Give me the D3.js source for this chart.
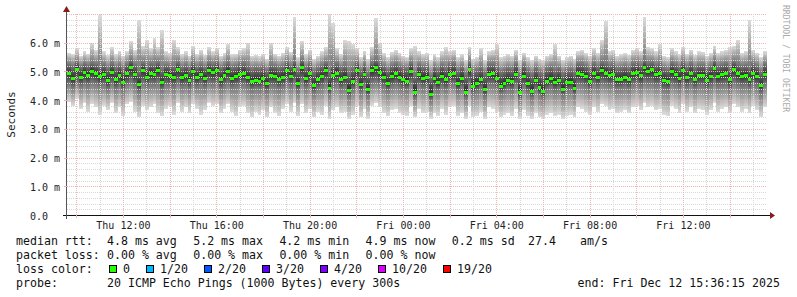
<!DOCTYPE html>
<html>
<head>
<meta charset="utf-8">
<script src="https://cdn.jsdelivr.net/npm/d3@7"></script>
<style>
  body { margin: 0; background: #fff; }
  svg { display: block; font-family: 'DejaVu Sans Mono', monospace; }
</style>
</head>
<body>
<svg id="chart" width="797" height="297"></svg>
<script>
// one column = 10 minutes, values in ms
const median = [
  4.95, 4.76, 5.10, 4.82, 4.97, 4.88, 5.02, 4.94, 4.83, 4.90,
  4.70, 4.97, 4.72, 4.88, 4.64, 4.93, 5.15, 4.90, 4.55, 5.05,
  4.82, 4.96, 4.92, 5.05, 4.62, 4.92, 4.87, 4.82, 5.07, 4.80,
  4.87, 4.70, 5.02, 4.80, 4.92, 4.78, 5.05, 4.97, 5.06, 4.72,
  4.88, 5.03, 4.78, 4.83, 4.91, 4.93, 4.82, 4.66, 4.71, 4.68,
  4.76, 4.58, 4.88, 4.85, 4.74, 4.82, 5.05, 4.85, 5.10, 4.60,
  5.15, 4.76, 4.93, 4.52, 4.72, 4.84, 5.05, 4.44, 4.88, 4.96,
  4.72, 4.82, 4.36, 4.66, 5.04, 4.55, 4.90, 4.38, 5.05, 5.15,
  4.97, 4.82, 4.60, 4.84, 4.93, 4.82, 4.74, 4.68, 5.02, 4.30,
  4.90, 4.78, 4.80, 4.22, 4.77, 4.62, 4.85, 4.72, 4.92, 4.94,
  4.60, 4.78, 4.30, 5.07, 4.50, 4.60, 4.72, 4.38, 4.92, 4.93,
  4.78, 4.50, 4.60, 4.70, 4.65, 4.92, 4.28, 4.85, 4.58, 4.32,
  4.70, 4.45, 4.32, 4.68, 4.76, 4.62, 4.70, 4.40, 4.62, 4.64,
  4.42, 4.95, 4.92, 4.84, 4.68, 4.95, 4.82, 5.05, 4.96, 4.88,
  4.92, 4.72, 4.74, 4.80, 4.72, 4.94, 4.98, 4.86, 5.14, 5.03,
  5.07, 4.90, 4.94, 4.70, 4.66, 5.00, 4.90, 4.78, 5.05, 4.79,
  4.94, 4.74, 4.88, 4.88, 4.71, 4.84, 5.12, 4.84, 4.90, 4.94,
  4.72, 5.10, 4.93, 4.84, 4.88, 4.73, 4.95, 4.84, 4.52, 4.92
];
const pingMax = [
  5.65, 5.60, 5.80, 5.55, 5.70, 5.62, 6.00, 5.75, 6.95, 5.70,
  5.58, 5.85, 5.60, 5.72, 5.55, 5.70, 6.05, 5.75, 6.80, 5.90,
  6.10, 5.80, 6.15, 5.85, 6.45, 5.70, 5.65, 6.10, 5.85, 5.60,
  5.70, 5.55, 5.90, 5.62, 5.75, 5.58, 5.85, 5.70, 5.80, 5.55,
  5.65, 5.95, 5.60, 5.62, 5.75, 5.80, 6.00, 5.55, 5.58, 5.52,
  5.60, 5.45, 6.00, 5.62, 5.55, 5.65, 5.85, 5.68, 6.90, 5.50,
  6.05, 5.60, 5.75, 5.45, 5.55, 5.70, 5.85, 7.00, 6.70, 5.80,
  5.60, 6.10, 6.05, 5.95, 5.80, 5.50, 5.72, 5.45, 5.85, 6.85,
  6.00, 5.65, 5.50, 5.68, 5.75, 5.65, 5.55, 5.50, 5.80, 5.90,
  5.70, 5.60, 5.65, 5.40, 5.60, 5.50, 5.70, 5.85, 5.70, 5.75,
  5.50, 5.60, 5.40, 5.85, 5.45, 5.50, 5.80, 5.40, 5.70, 5.75,
  5.95, 5.50, 5.55, 5.60, 5.55, 5.75, 5.40, 5.65, 5.50, 5.40,
  5.55, 5.45, 5.40, 5.55, 5.60, 5.95, 5.55, 5.40, 5.50, 5.55,
  5.45, 5.70, 5.75, 5.65, 5.55, 5.80, 5.65, 6.10, 6.75, 5.70,
  5.75, 5.55, 5.60, 5.65, 5.58, 5.75, 5.80, 5.70, 6.90, 5.85,
  5.80, 5.70, 5.95, 5.55, 5.50, 5.80, 5.70, 5.60, 5.85, 5.62,
  5.75, 5.58, 5.70, 5.68, 5.55, 5.65, 5.90, 5.65, 5.70, 5.75,
  5.85, 5.90, 6.10, 5.65, 5.70, 6.80, 5.75, 5.65, 5.50, 5.70
];
const pingQ3 = [
  5.25, 5.20, 5.32, 5.18, 5.28, 5.22, 5.30, 5.26, 5.20, 5.24,
  5.12, 5.28, 5.15, 5.22, 5.10, 5.25, 5.38, 5.24, 5.05, 5.30,
  5.20, 5.28, 5.24, 5.32, 5.08, 5.22, 5.20, 5.18, 5.32, 5.16,
  5.22, 5.12, 5.30, 5.18, 5.24, 5.15, 5.30, 5.26, 5.32, 5.14,
  5.22, 5.30, 5.16, 5.20, 5.26, 5.28, 5.18, 5.10, 5.14, 5.12,
  5.16, 5.05, 5.22, 5.20, 5.14, 5.18, 5.32, 5.20, 5.35, 5.06,
  5.38, 5.15, 5.26, 5.02, 5.12, 5.20, 5.30, 5.00, 5.22, 5.28,
  5.14, 5.20, 4.98, 5.10, 5.30, 5.04, 5.24, 4.95, 5.30, 5.38,
  5.28, 5.18, 5.06, 5.20, 5.26, 5.18, 5.14, 5.12, 5.30, 4.90,
  5.24, 5.16, 5.18, 4.85, 5.15, 5.06, 5.22, 5.12, 5.26, 5.28,
  5.05, 5.16, 4.92, 5.32, 5.00, 5.06, 5.14, 4.95, 5.26, 5.26,
  5.16, 5.00, 5.05, 5.12, 5.08, 5.26, 4.90, 5.22, 5.04, 4.92,
  5.12, 4.98, 4.92, 5.10, 5.16, 5.06, 5.12, 4.95, 5.06, 5.08,
  4.98, 5.28, 5.26, 5.20, 5.10, 5.28, 5.18, 5.32, 5.28, 5.22,
  5.26, 5.12, 5.14, 5.18, 5.12, 5.28, 5.30, 5.22, 5.38, 5.30,
  5.32, 5.24, 5.28, 5.12, 5.08, 5.30, 5.24, 5.16, 5.32, 5.18,
  5.28, 5.14, 5.22, 5.22, 5.12, 5.20, 5.36, 5.20, 5.24, 5.28,
  5.14, 5.34, 5.26, 5.20, 5.22, 5.14, 5.28, 5.20, 5.00, 5.26
];
const pingQ1 = [
  4.58, 4.45, 4.62, 4.50, 4.60, 4.52, 4.62, 4.58, 4.50, 4.55,
  4.40, 4.58, 4.42, 4.52, 4.36, 4.56, 4.65, 4.55, 4.30, 4.62,
  4.50, 4.58, 4.56, 4.62, 4.38, 4.55, 4.52, 4.48, 4.62, 4.48,
  4.52, 4.42, 4.60, 4.48, 4.56, 4.46, 4.62, 4.58, 4.62, 4.42,
  4.52, 4.60, 4.46, 4.50, 4.55, 4.56, 4.48, 4.38, 4.42, 4.40,
  4.45, 4.32, 4.52, 4.50, 4.42, 4.48, 4.62, 4.50, 4.64, 4.34,
  4.66, 4.45, 4.56, 4.28, 4.42, 4.50, 4.62, 4.22, 4.52, 4.58,
  4.42, 4.48, 4.15, 4.38, 4.62, 4.30, 4.55, 4.16, 4.62, 4.66,
  4.58, 4.48, 4.34, 4.50, 4.56, 4.48, 4.42, 4.38, 4.60, 4.08,
  4.55, 4.45, 4.48, 4.02, 4.45, 4.34, 4.50, 4.40, 4.56, 4.58,
  4.32, 4.45, 4.08, 4.62, 4.25, 4.32, 4.42, 4.15, 4.56, 4.56,
  4.45, 4.25, 4.32, 4.40, 4.36, 4.56, 4.06, 4.50, 4.30, 4.10,
  4.40, 4.20, 4.10, 4.38, 4.45, 4.34, 4.40, 4.18, 4.34, 4.36,
  4.20, 4.58, 4.56, 4.50, 4.38, 4.58, 4.48, 4.62, 4.58, 4.52,
  4.56, 4.42, 4.44, 4.48, 4.42, 4.56, 4.60, 4.50, 4.66, 4.60,
  4.62, 4.54, 4.56, 4.40, 4.36, 4.60, 4.54, 4.45, 4.62, 4.46,
  4.56, 4.42, 4.52, 4.52, 4.40, 4.50, 4.66, 4.50, 4.54, 4.56,
  4.40, 4.64, 4.56, 4.50, 4.52, 4.42, 4.58, 4.50, 4.25, 4.56
];
const pingMin = [
  3.95, 3.80, 4.05, 3.70, 3.90, 3.60, 3.85, 3.75, 3.50, 3.80,
  3.65, 3.90, 3.55, 3.75, 3.45, 3.85, 3.95, 3.60, 3.40, 3.80,
  3.65, 3.75, 3.85, 3.55, 3.45, 3.70, 3.80, 3.50, 3.90, 3.60,
  3.75, 3.55, 3.85, 3.70, 3.50, 3.65, 3.90, 3.80, 3.85, 3.55,
  3.70, 3.85, 3.60, 3.45, 3.75, 3.80, 3.55, 3.40, 3.60, 3.50,
  3.65, 3.40, 3.75, 3.55, 3.45, 3.70, 3.85, 3.60, 3.90, 3.45,
  3.85, 3.55, 3.70, 3.40, 3.60, 3.50, 3.80, 3.35, 3.65, 3.75,
  3.55, 3.60, 3.35, 3.50, 3.80, 3.40, 3.70, 3.35, 3.80, 3.90,
  3.75, 3.55, 3.45, 3.65, 3.70, 3.55, 3.50, 3.45, 3.80, 3.40,
  3.70, 3.55, 3.60, 3.35, 3.55, 3.45, 3.70, 3.50, 3.75, 3.80,
  3.45, 3.55, 3.35, 3.80, 3.40, 3.45, 3.60, 3.35, 3.75, 3.70,
  3.60, 3.40, 3.50, 3.55, 3.45, 3.70, 3.35, 3.65, 3.45, 3.35,
  3.55, 3.40, 3.35, 3.50, 3.55, 3.45, 3.50, 3.35, 3.45, 3.50,
  3.40, 3.75, 3.70, 3.60, 3.50, 3.75, 3.60, 3.85, 3.80, 3.65,
  3.70, 3.55, 3.60, 3.65, 3.55, 3.75, 3.80, 3.65, 3.90, 3.75,
  3.80, 3.65, 3.70, 3.50, 3.45, 3.80, 3.70, 3.55, 3.85, 3.60,
  3.75, 3.55, 3.70, 3.65, 3.50, 3.65, 3.90, 3.60, 3.70, 3.75,
  3.55, 3.85, 3.75, 3.60, 3.70, 3.55, 3.80, 3.65, 3.40, 3.75
];

const yTicks = [0, 1, 2, 3, 4, 5, 6];
const yTickLabels = ['0.0', '1.0 m', '2.0 m', '3.0 m', '4.0 m', '5.0 m', '6.0 m'];
const xTickLabels = ['Thu 12:00', 'Thu 16:00', 'Thu 20:00', 'Fri 00:00', 'Fri 04:00', 'Fri 08:00', 'Fri 12:00'];

const rttStats = [4.8, 5.2, 4.2, 4.9, 0.2];
const rttStatNames = ['avg', 'max', 'min', 'now', 'sd'];
const lossStats = [0, 0, 0, 0];
const amPerSec = 27.4;
const lossLabels = ['0', '1/20', '2/20', '3/20', '4/20', '10/20', '19/20'];
const lossColors = ['#26ff00', '#00b8ff', '#0059ff', '#5e00ff', '#7e00ff', '#dd00ff', '#ff0000'];

const STEP = 600;
const start = Date.UTC(2025, 11, 11, 9, 36, 15);
const end = Date.UTC(2025, 11, 12, 15, 36, 15);

const LEFT = 67, RIGHT = 767, TOP = 14, BOTTOM = 215;
const GRID = '#d8d8d8', MGRID = '#eeb4b4';
const svg = d3.select('#chart');
svg.append('rect').attr('width', 797).attr('height', 297).attr('fill', '#fff');

const x = d3.scaleUtc().domain([new Date(start), new Date(end)]).range([LEFT, RIGHT]);
const y = d3.scaleLinear().domain([0, 7]).range([BOTTOM, TOP]);

const cols = median.map((m, i) => ({
  i, m,
  hi: pingMax[i], q3: pingQ3[i], q1: pingQ1[i], lo: pingMin[i],
  x0: Math.round(x(new Date(start + i * STEP * 1000))),
  x1: Math.round(x(new Date(start + (i + 1) * STEP * 1000)))
}));

// smoke: one gradient per column, light at the extremes, dark at the median
const defs = svg.append('defs');
const grads = defs.selectAll('linearGradient').data(cols).join('linearGradient')
  .attr('id', d => 'smoke' + d.i)
  .attr('gradientUnits', 'userSpaceOnUse')
  .attr('x1', 0).attr('x2', 0)
  .attr('y1', d => y(d.hi)).attr('y2', d => y(d.lo));
grads.selectAll('stop')
  .data(d => {
    const span = y(d.lo) - y(d.hi);
    const off = v => (y(v) - y(d.hi)) / span;
    return [[0, '#dcdcdc'], [off(d.q3), '#767676'], [off(d.m), '#2e2e2e'], [off(d.q1), '#767676'], [1, '#dcdcdc']];
  })
  .join('stop')
  .attr('offset', s => s[0])
  .attr('stop-color', s => s[1]);

svg.append('g').selectAll('rect').data(cols).join('rect')
  .attr('x', d => d.x0)
  .attr('width', d => d.x1 - d.x0)
  .attr('y', d => y(d.hi))
  .attr('height', d => y(d.lo) - y(d.hi))
  .attr('fill', d => `url(#smoke${d.i})`)
  .attr('shape-rendering', 'crispEdges');

// grid, dotted
const grid = svg.append('g').attr('shape-rendering', 'crispEdges');
const yGrid = y.ticks(35).filter(v => v > 0);
grid.selectAll('line.hy').data(yGrid).join('line')
  .attr('x1', LEFT).attr('x2', RIGHT)
  .attr('y1', d => Math.round(y(d)) + 0.5).attr('y2', d => Math.round(y(d)) + 0.5)
  .attr('stroke-dasharray', '1,1')
  .attr('stroke', d => Math.abs(d - Math.round(d)) < 1e-6 ? MGRID : GRID);
const hours = d3.utcHour.range(new Date(start), new Date(end));
grid.selectAll('line.vx').data(hours).join('line')
  .attr('x1', d => Math.round(x(d)) + 0.5).attr('x2', d => Math.round(x(d)) + 0.5)
  .attr('y1', TOP).attr('y2', BOTTOM)
  .attr('stroke-dasharray', '1,1')
  .attr('stroke', d => d.getUTCHours() % 2 === 0 ? MGRID : GRID);

// median markers coloured by loss
svg.append('g').selectAll('rect').data(cols).join('rect')
  .attr('x', d => d.x0)
  .attr('width', d => d.x1 - d.x0)
  .attr('y', d => Math.round(y(d.m)) - 1)
  .attr('height', 3)
  .attr('fill', lossColors[0])
  .attr('shape-rendering', 'crispEdges');

// axes
const xTicks = hours.filter(d => d.getUTCHours() % 4 === 0);
const xAxis = svg.append('g')
  .attr('transform', `translate(0,${BOTTOM})`)
  .call(d3.axisBottom(x).tickValues(xTicks).tickSize(0)
    .tickFormat((d, i) => xTickLabels[i]));
xAxis.select('.domain').remove();
xAxis.selectAll('text').attr('y', 13.5).attr('dy', null)
  .attr('font-family', 'DejaVu Sans Mono').attr('font-size', 10).attr('fill', '#222');

const yAxis = svg.append('g')
  .attr('transform', `translate(${LEFT},0)`)
  .call(d3.axisLeft(y).tickValues(yTicks).tickSize(0)
    .tickFormat((d, i) => yTickLabels[i]));
yAxis.select('.domain').remove();
yAxis.selectAll('text').attr('x', -37).attr('dy', '0.4em').attr('text-anchor', 'start')
  .attr('font-family', 'DejaVu Sans Mono').attr('font-size', 10).attr('fill', '#222');

const axisG = svg.append('g').attr('shape-rendering', 'crispEdges');
axisG.append('line').attr('x1', 63).attr('x2', 771).attr('y1', BOTTOM + 0.5).attr('y2', BOTTOM + 0.5).attr('stroke', '#111');
axisG.append('line').attr('x1', LEFT - 0.5).attr('x2', LEFT - 0.5).attr('y1', BOTTOM + 4).attr('y2', 9).attr('stroke', '#555');
axisG.selectAll('line.tx').data(hours.filter(d => d.getUTCHours() % 2 === 0)).join('line')
  .attr('x1', d => Math.round(x(d)) + 0.5).attr('x2', d => Math.round(x(d)) + 0.5)
  .attr('y1', BOTTOM).attr('y2', BOTTOM + 3).attr('stroke', MGRID);
axisG.selectAll('line.ty').data(yTicks.slice(1)).join('line')
  .attr('x1', LEFT - 3).attr('x2', LEFT)
  .attr('y1', d => Math.round(y(d)) + 0.5).attr('y2', d => Math.round(y(d)) + 0.5)
  .attr('stroke', MGRID);
svg.append('path').attr('d', 'M770,212 L775,215.5 L770,219 Z').attr('fill', '#8b1a1a');
svg.append('path').attr('d', 'M63,12 L66.5,6 L70,12 Z').attr('fill', '#8b1a1a');

svg.append('text')
  .attr('transform', `translate(15,${(TOP + BOTTOM) / 2}) rotate(-90)`)
  .attr('text-anchor', 'middle').attr('font-size', 11).attr('fill', '#222')
  .text('Seconds');

svg.append('text')
  .attr('transform', 'translate(783,5) rotate(90)')
  .attr('font-size', 8.1).attr('fill', '#aaa')
  .text('RRDTOOL / TOBI OETIKER');

// legend
const CH = 7;
const legend = svg.append('g').attr('font-size', 11.6).attr('fill', '#111');
const row = (yy, items) => items.forEach(([t, xx, anchor]) =>
  legend.append('text').attr('x', xx).attr('y', yy).attr('text-anchor', anchor || 'start')
    .attr('xml:space', 'preserve').text(t));

row(245, [['median rtt:', 16]]
  .concat(rttStats.map((v, i) => [`${v.toFixed(1)} ms ${rttStatNames[i]}`, 107 + 86.2 * i]))
  .concat([[amPerSec.toFixed(1), 528], ['am/s', 580]]));
row(259, [['packet loss:', 16]]
  .concat(lossStats.map((v, i) => [`${v.toFixed(2)} % ${rttStatNames[i]}`, 107 + 86.2 * i])));
row(273, [['loss color:', 16]]);
row(287, [['probe:', 16], ['20 ICMP Echo Pings (1000 Bytes) every 300s', 107],
  ['end: Fri Dec 12 15:36:15 2025', 780, 'end']]);

let sx = 109;
lossLabels.forEach((lab, i) => {
  legend.append('rect').attr('x', sx + 0.5).attr('y', 265.5).attr('width', 7).attr('height', 7)
    .attr('fill', lossColors[i]).attr('stroke', '#000').attr('shape-rendering', 'crispEdges');
  legend.append('text').attr('x', sx + 14).attr('y', 273).text(lab);
  sx = Math.round(sx + 14 + lab.length * CH + 15.5);
});
</script>
</body>
</html>
